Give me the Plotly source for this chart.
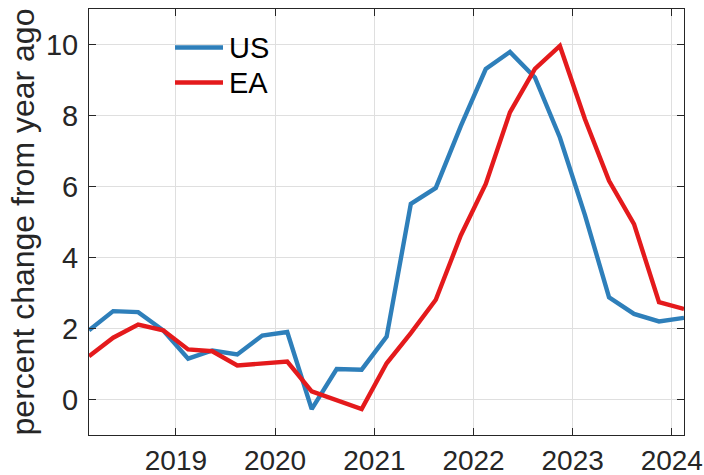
import plotly.graph_objects as go

quarters = ["2018-02-15", "2018-05-15", "2018-08-15", "2018-11-15",
            "2019-02-15", "2019-05-15", "2019-08-15", "2019-11-15",
            "2020-02-15", "2020-05-15", "2020-08-15", "2020-11-15",
            "2021-02-15", "2021-05-15", "2021-08-15", "2021-11-15",
            "2022-02-15", "2022-05-15", "2022-08-15", "2022-11-15",
            "2023-02-15", "2023-05-15", "2023-08-15", "2023-11-15",
            "2024-02-15"]
us = [1.95, 2.49, 2.46, 1.95, 1.15, 1.38, 1.27, 1.80, 1.90, -0.27,
      0.86, 0.84, 1.77, 5.51, 5.96, 7.70, 9.31, 9.79, 9.07, 7.38,
      5.20, 2.88, 2.41, 2.20, 2.30]
ea = [1.22, 1.74, 2.11, 1.95, 1.41, 1.36, 0.96, 1.02, 1.07, 0.23,
      -0.03, -0.27, 1.02, 1.87, 2.81, 4.62, 6.07, 8.09, 9.31, 9.96,
      7.90, 6.16, 4.94, 2.74, 2.55]
series_names = ["US", "EA"]
series_colors = ["#2E7FBA", "#E41A1C"]
year_ticks = ["2019-01-01", "2020-01-01", "2021-01-01", "2022-01-01", "2023-01-01", "2024-01-01"]
year_labels = ["2019", "2020", "2021", "2022", "2023", "2024"]
y_ticks = [0, 2, 4, 6, 8, 10]

font_family = "Liberation Sans, Arial, Helvetica, sans-serif"
txt = "#262626"

# the page body margin is removed (post_script below), so the figure fills
# the 704x475 window; plot box at x 89..684, y 9..435
W, H = 704, 475
L, T = 89, 9
R = W - 684
B = H - 435
pw, ph = W - L - R, H - T - B

fig = go.Figure()
for vals, name, col in zip([us, ea], series_names, series_colors):
    fig.add_trace(go.Scatter(x=quarters, y=vals, mode="lines", name=name,
                             line=dict(color=col, width=4.4), showlegend=False))

def px(xs):
    return (xs - L) / pw
def py(ys):
    return (H - B - ys) / ph

# manual legend (no box)
for i, (name, col) in enumerate(zip(series_names, series_colors)):
    yy = 47.5 + i * 35
    fig.add_shape(type="line", xref="paper", yref="paper",
                  x0=px(175), x1=px(223), y0=py(yy), y1=py(yy),
                  line=dict(color=col, width=4.4))
    fig.add_annotation(xref="paper", yref="paper", x=px(227), y=py(yy),
                       xanchor="left", yanchor="middle", showarrow=False,
                       text=name, font=dict(size=29, color="black", family=font_family))

fig.update_layout(
    width=W, height=H,
    margin=dict(l=L, r=R, t=T, b=B, autoexpand=False),
    paper_bgcolor="white", plot_bgcolor="white",
    font=dict(family=font_family, color=txt),
    showlegend=False,
)
fig.update_xaxes(
    type="date",
    range=[quarters[0], quarters[-1]],
    tickvals=year_ticks, ticktext=year_labels,
    tickfont=dict(size=28, color=txt),
    ticks="inside", ticklen=7, tickcolor=txt,
    showgrid=True, gridcolor="#DFDFDF", gridwidth=1,
    showline=True, linecolor=txt, linewidth=1, mirror="ticks",
    zeroline=False, ticklabelstandoff=0, automargin=False,
    ticklabeloverflow="allow",
)
fig.update_yaxes(
    range=[-1, 11],
    tickvals=y_ticks,
    tickfont=dict(size=29, color=txt),
    ticks="inside", ticklen=7, tickcolor=txt,
    showgrid=True, gridcolor="#DFDFDF", gridwidth=1,
    showline=True, linecolor=txt, linewidth=1, mirror="ticks",
    zeroline=False, automargin=False, ticklabelstandoff=4,
    ticklabeloverflow="allow",
    title=dict(text="percent change from year ago", font=dict(size=32, color=txt), standoff=1),
)

fig.write_html("out.html",
               config={"displayModeBar": False},
               post_script="document.body.style.margin='0';document.body.style.overflow='hidden';")
